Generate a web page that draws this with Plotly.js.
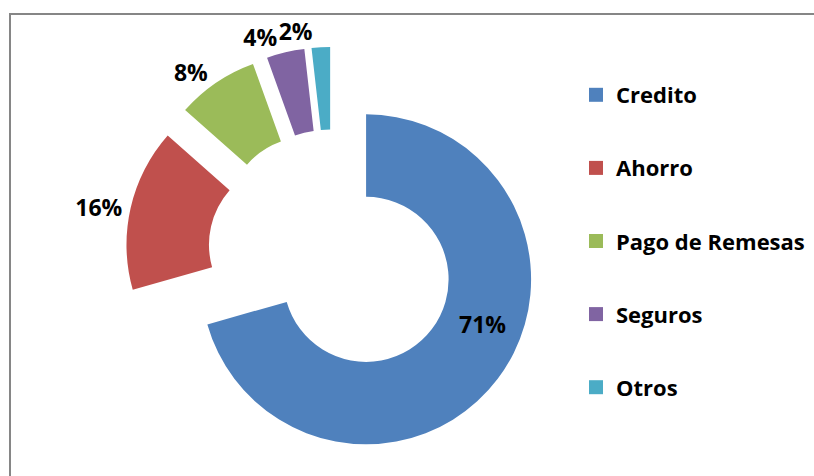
<!DOCTYPE html>
<html>
<head>
<meta charset="utf-8">
<script src="https://cdn.plot.ly/plotly-3.0.1.min.js"></script>
<style>html,body{margin:0;padding:0;background:#fff;}#chart{width:814px;height:476px;}</style>
</head>
<body>
<div id="chart"></div>
<script>
// Data
var categories = ["Credito", "Ahorro", "Pago de Remesas", "Seguros", "Otros"];
var values = [70.6, 15.9, 8.0, 3.7, 1.8];
var colors = ["#4F81BD", "#C0504D", "#9BBB59", "#8064A2", "#4BACC6"];

var FONT = "'Open Sans', Lato, sans-serif";
var LABEL = "<b>%{percent:.0%}</b>";
var pulls = categories.map(function(){return 0.255;});
var clear = categories.map(function(){return "rgba(0,0,0,0)";});
var dom = {x: [0.1541, 0.6629], y: [0.0313, 0.9015]};
var tfont = {family: FONT, size: 23, color: "#000"};

function basePie(extra) {
  var t = {
    type: "pie",
    labels: categories,
    values: values,
    hole: 0.5,
    sort: false,
    direction: "clockwise",
    rotation: 0,
    pull: pulls,
    insidetextorientation: "horizontal",
    textfont: tfont, outsidetextfont: tfont, insidetextfont: tfont,
    domain: dom,
    showlegend: false,
    hoverinfo: "none",
    automargin: false
  };
  for (var k in extra) t[k] = extra[k];
  return t;
}

// visible donut with the outside labels of the larger pulled slices
var pie = basePie({
  marker: {colors: colors, line: {width: 0}},
  texttemplate: ["", LABEL, LABEL, LABEL, ""],
  textposition: ["none", "outside", "outside", "outside", "none"]
});

// transparent copy: label of the small "Otros" slice (avoids label-collision shifting)
var pieLabelOtros = basePie({
  marker: {colors: clear, line: {width: 0}},
  texttemplate: ["", "", "", "", LABEL],
  textposition: ["none", "none", "none", "none", "outside"]
});

// transparent copy: label of "Credito" placed a bit higher in the ring, as in the original
var pieLabelCredito = basePie({
  marker: {colors: clear, line: {width: 0}},
  rotation: -12,
  texttemplate: [LABEL, "", "", "", ""],
  textposition: ["inside", "none", "none", "none", "none"]
});

// Legend entries (one per category) so the legend can be spaced like the original
var legendTraces = categories.map(function(name, i) {
  return {
    type: "scatter",
    x: [null], y: [null],
    mode: "markers",
    name: "<b>" + name + "</b>",
    legendgroup: "g" + i,
    marker: {symbol: "square", size: 14, color: colors[i]},
    hoverinfo: "none",
    showlegend: true
  };
});

var layout = {
  width: 814,
  height: 476,
  margin: {l: 0, r: 0, t: 0, b: 0},
  paper_bgcolor: "#fff",
  plot_bgcolor: "#fff",
  showlegend: true,
  xaxis: {visible: false},
  yaxis: {visible: false},
  legend: {
    x: 576 / 814, xanchor: "left",
    y: 1 - 74 / 476, yanchor: "top",
    font: {family: FONT, size: 22, color: "#000"},
    tracegroupgap: 41.5,
    bgcolor: "rgba(0,0,0,0)",
    itemclick: false, itemdoubleclick: false
  },
  shapes: [{
    type: "rect", xref: "paper", yref: "paper",
    x0: 10 / 814, x1: 1.02, y0: -0.02, y1: 1 - 14 / 476,
    line: {color: "#868686", width: 2}
  }]
};

Plotly.newPlot("chart", [pie, pieLabelOtros, pieLabelCredito].concat(legendTraces), layout, {displayModeBar: false, staticPlot: true});
</script>
</body>
</html>
